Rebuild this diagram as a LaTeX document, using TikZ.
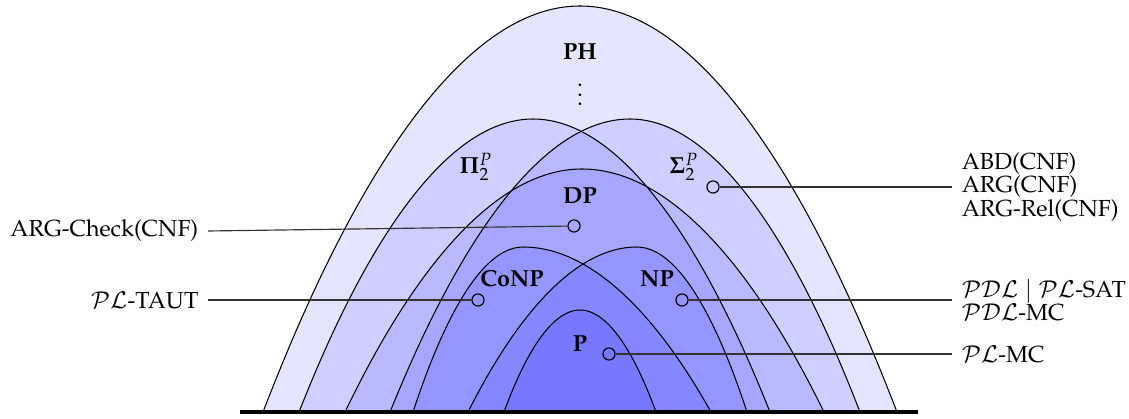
\documentclass[tikz,border=0pt]{standalone}
\usepackage[T1]{fontenc}
\usepackage{mathpazo}
\begin{document}
\begin{tikzpicture}[x=0.43pt,y=-0.43pt,
  zone/.style={fill=blue, fill opacity=0.1},
  edge/.style={draw=black, line width=0.45pt},
  cls/.style={font=\bfseries, inner sep=0pt},
  dot/.style={circle, draw=black, inner sep=0pt, minimum size=5.2pt, line width=0.5pt},
  conn/.style={draw=black!80, line width=0.5pt},
  lab/.style={align=left, inner xsep=4pt, inner ysep=0pt, font=\fontsize{10}{10}\selectfont}]
\useasboundingbox (0,0) rectangle (1129,419);
% fills
\path[zone] (263,412) parabola bend (580,6) (897,412) -- cycle;
\path[zone] (299,412) parabola bend (533,119) (770,412) -- cycle;
\path[zone] (390,412) parabola bend (630,119) (860,412) -- cycle;
\path[zone] (345,412) parabola bend (582,169) (824,412) -- cycle;
\path[zone] (413,412) parabola bend (523,247) (711,412) -- cycle;
\path[zone] (468,412) parabola bend (637,247) (747,412) -- cycle;
\path[zone] (504,412) parabola bend (580,310) (656,412) -- cycle;
% outlines
\draw[edge] (263,412) parabola bend (580,6) (897,412);
\draw[edge] (299,412) parabola bend (533,119) (770,412);
\draw[edge] (390,412) parabola bend (630,119) (860,412);
\draw[edge] (345,412) parabola bend (582,169) (824,412);
\draw[edge] (413,412) parabola bend (523,247) (711,412);
\draw[edge] (468,412) parabola bend (637,247) (747,412);
\draw[edge] (504,412) parabola bend (580,310) (656,412);
% baseline
\coordinate (bl) at (240,412);
\coordinate (br) at (918,412);
\draw[line width=1.5pt] (bl) -- (br);
% class labels
\node[cls] (ph) at (580,52) {PH};
\node[inner sep=0pt] (vd) at (580,88) {$\vdots$};
\node[cls] (pi2) at (476,167) {$\mathbf{\Pi}^P_2$};
\node[cls] (si2) at (684,167) {$\mathbf{\Sigma}^P_2$};
\node[cls] (dp) at (580,196) {DP};
\node[cls] (conp) at (512,279) {CoNP};
\node[cls] (np) at (657,279) {NP};
\node[cls] (p) at (580,344) {P};
% markers
\node[dot] (dsi) at (713,187) {};
\node[dot] (ddp) at (574,226) {};
\node[dot] (dco) at (478,300) {};
\node[dot] (dnp) at (682,300) {};
\node[dot] (dp0) at (609,354) {};
% problem labels
\node[lab, anchor=west] (lsi) at (952,187) {ABD(CNF)\\ARG(CNF)\\ARG-Rel(CNF)};
\node[lab, anchor=east] (ldp) at (208,231) {ARG-Check(CNF)};
\node[lab, anchor=east] (lco) at (208,300) {$\mathcal{PL}$-TAUT};
\node[lab, anchor=west] (lnp) at (952,300) {$\mathcal{PDL}\mid\mathcal{PL}$-SAT\\$\mathcal{PDL}$-MC};
\node[lab, anchor=west] (lp) at (952,354) {$\mathcal{PL}$-MC};
% connectors
\draw[conn] (dsi) -- (lsi.west);
\draw[conn] (ddp) -- (ldp.east);
\draw[conn] (dco) -- (lco.east);
\draw[conn] (dnp) -- (lnp.west);
\draw[conn] (dp0) -- (lp.west);
\end{tikzpicture}
\end{document}
